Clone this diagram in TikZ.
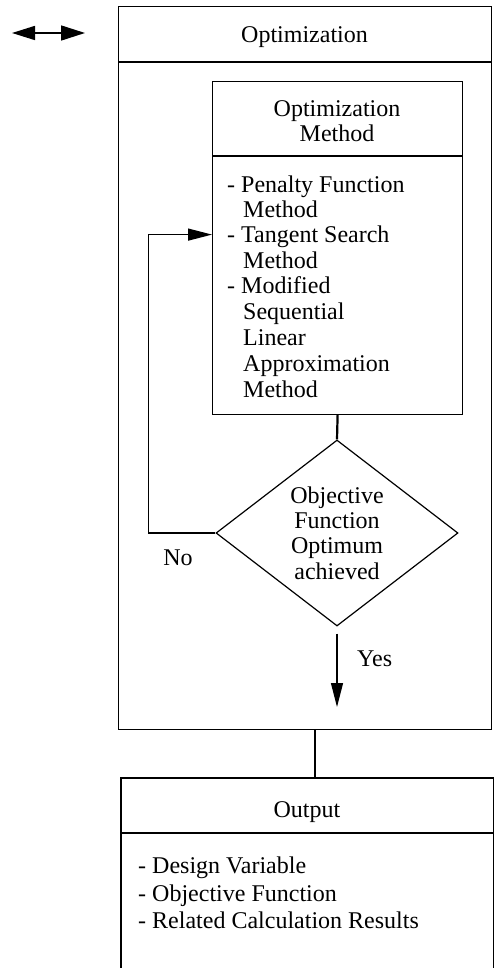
\documentclass[tikz,border=0pt]{standalone}
\usepackage{fontspec}
\setmainfont{Liberation Serif}
\usetikzlibrary{shapes.geometric,arrows.meta}
\begin{document}
\begin{tikzpicture}[x=1pt,y=-1pt,
  box/.style={draw, line width=1.2pt, inner sep=0pt, anchor=north west},
  txt/.style={font=\fontsize{24}{25.5}\selectfont, inner sep=0pt, anchor=base},
  item/.style={txt, anchor=base west},
  conn/.style={line width=2.2pt},
  arr/.style={line width=1.3pt, -{Triangle[length=24pt,width=12pt]}},
  darr/.style={line width=1.6pt, {Triangle[length=23pt,width=14pt]}-{Triangle[length=24pt,width=15pt]}}]
\useasboundingbox (0,0) rectangle (494,968);
% outer optimization box
\node[box, minimum width=373pt, minimum height=723pt] (outer) at (118,6) {};
\draw[line width=1.2pt] ([yshift=-56pt]outer.north west) -- ([yshift=-56pt]outer.north east);
\node[txt] (outert) at (304.5,43) {Optimization};
% inner method box
\node[box, minimum width=250pt, minimum height=333pt] (inner) at (212,81) {};
\draw[line width=1.2pt] ([yshift=-75pt]inner.north west) -- ([yshift=-75pt]inner.north east);
\node[txt] (innert1) at (337,117) {Optimization};
\node[txt] (innert2) at (337,142) {Method};
\node[item] (m1) at (227,193) {- Penalty Function};
\node[item] (m2) at (243,218) {Method};
\node[item] (m3) at (227,243) {- Tangent Search};
\node[item] (m4) at (243,268) {Method};
\node[item] (m5) at (227,293) {- Modified};
\node[item] (m6) at (243,319) {Sequential};
\node[item] (m7) at (243,345) {Linear};
\node[item] (m8) at (243,371) {Approximation};
\node[item] (m9) at (243,397) {Method};
% decision
\node[diamond, draw, line width=1.2pt, aspect=1.3, minimum width=242pt, minimum height=186pt,
      inner sep=0pt, align=center, font=\fontsize{24}{25.2}\selectfont] (dia) at (337,533)
      {Objective\\Function\\Optimum\\achieved};
\draw[conn] (inner.south) -- (dia.north);
\coordinate (corner) at ([xshift=-67pt]dia.west);
\draw[line width=2.2pt] (dia.west) -- (corner);
\draw[arr] (corner) |- ([yshift=13.5pt]inner.west);
\node[txt] (no) at (178,565) {No};
\coordinate (yesend) at (337,707);
\draw[arr] ([yshift=-7pt]dia.south) -- (yesend);
\node[item] (yes) at (357,666) {Yes};
% output box (cut at the bottom)
\node[inner sep=0pt, anchor=north west, minimum width=372pt, minimum height=192pt] (out) at (121,778) {};
\draw[line width=1.2pt] (out.south west) -- (out.north west) -- (out.north east) -- (out.south east);
\draw[line width=1.2pt] ([yshift=-55pt]out.north west) -- ([yshift=-55pt]out.north east);
\draw[conn] ([xshift=9.5pt]outer.south) -- ([xshift=9.5pt]outer.south |- out.north);
\node[txt] (outt) at (307,817) {Output};
\node[item] (o1) at (138,873) {- Design Variable};
\node[item] (o2) at (138,901) {- Objective Function};
\node[item] (o3) at (138,928) {- Related Calculation Results};
% legend double arrow
\coordinate (la) at (12,33);
\coordinate (lb) at (85,33);
\draw[darr] (la) -- (lb);
\end{tikzpicture}
\end{document}
